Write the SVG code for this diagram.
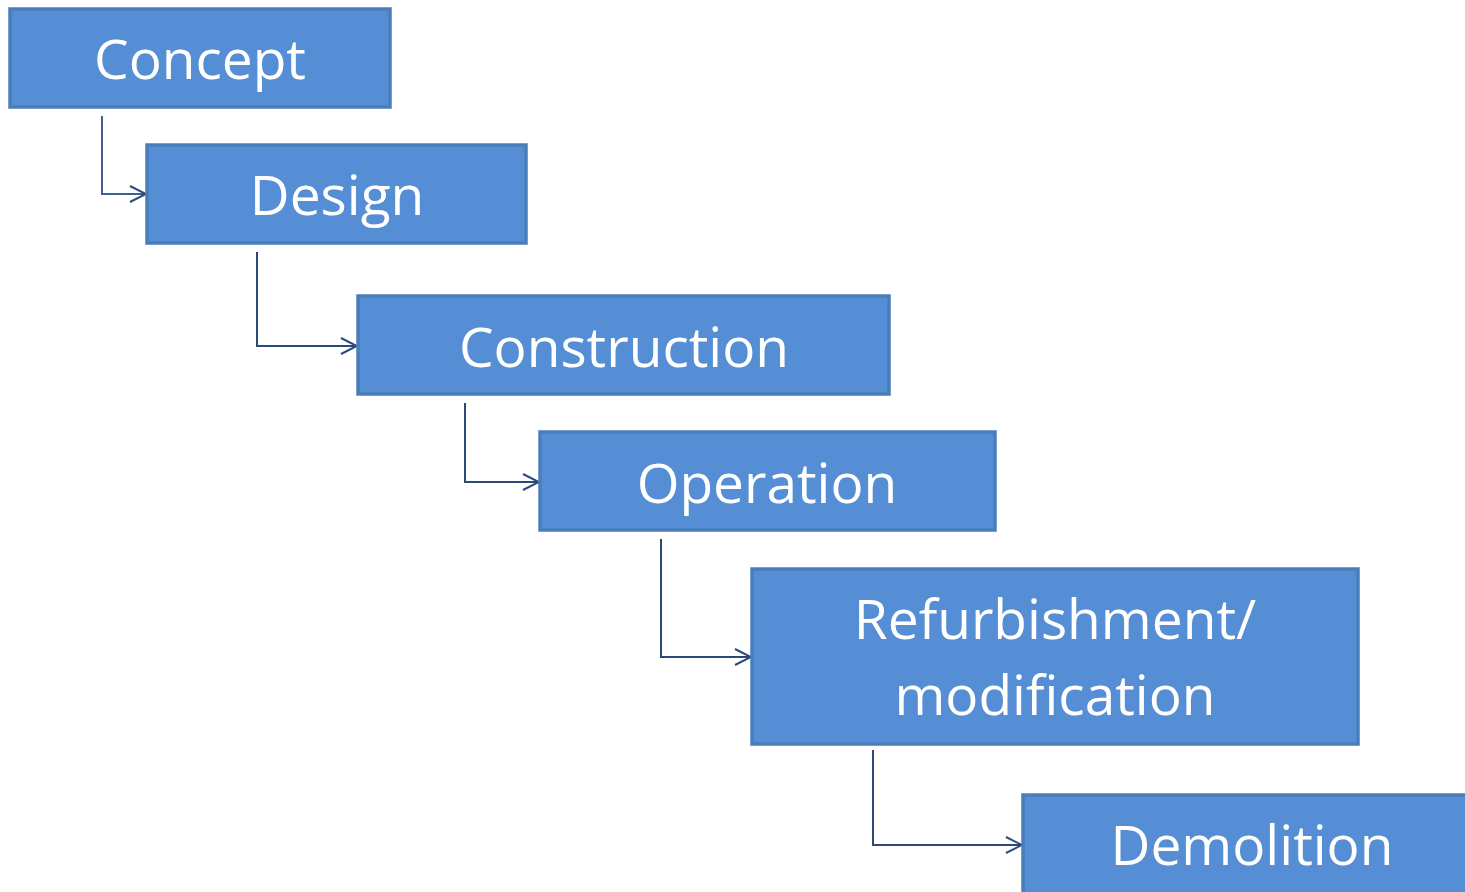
<svg xmlns="http://www.w3.org/2000/svg" width="1465" height="892" viewBox="0 0 1465 892">
<style>
.box{fill:#558ed5;stroke:#4a7ebb;stroke-width:3.5}
.lbl{font-family:"Open Sans","Liberation Sans",sans-serif;font-size:55px;fill:#fff;text-anchor:middle}
.con{fill:none;stroke:#2b4a78;stroke-width:2}
</style>
<defs>
<marker id="arr" markerWidth="20" markerHeight="20" refX="18" refY="10" orient="auto" markerUnits="userSpaceOnUse">
<path d="M2,2 L18,10 L2,18" fill="none" stroke="#2b4a78" stroke-width="2"/>
</marker>
</defs>
<rect width="1465" height="892" fill="#fff"/>
<g id="connectors">
<path class="con" d="M102,116 V194 H146" marker-end="url(#arr)" style="stroke:#3a5f92"/>
<path class="con" d="M257,252 V346 H357" marker-end="url(#arr)"/>
<path class="con" d="M465,403 V482 H539" marker-end="url(#arr)"/>
<path class="con" d="M661,539 V657 H751" marker-end="url(#arr)"/>
<path class="con" d="M873,750 V845 H1022" marker-end="url(#arr)"/>
</g>
<g id="concept"><rect class="box" x="10" y="9" width="380" height="98"/><text class="lbl" x="200" y="79">Concept</text></g>
<g id="design"><rect class="box" x="147" y="145" width="379" height="98"/><text class="lbl" x="337" y="215">Design</text></g>
<g id="construction"><rect class="box" x="358" y="296" width="531" height="98"/><text class="lbl" x="624" y="367">Construction</text></g>
<g id="operation"><rect class="box" x="540" y="432" width="455" height="98"/><text class="lbl" x="767" y="503">Operation</text></g>
<g id="refurbishment"><rect class="box" x="752" y="569" width="606" height="175"/><text class="lbl" x="1055" y="639">Refurbishment/</text><text class="lbl" x="1055" y="715">modification</text></g>
<g id="demolition"><rect class="box" x="1023" y="795" width="460" height="110"/><text class="lbl" x="1252" y="865">Demolition</text></g>
</svg>
